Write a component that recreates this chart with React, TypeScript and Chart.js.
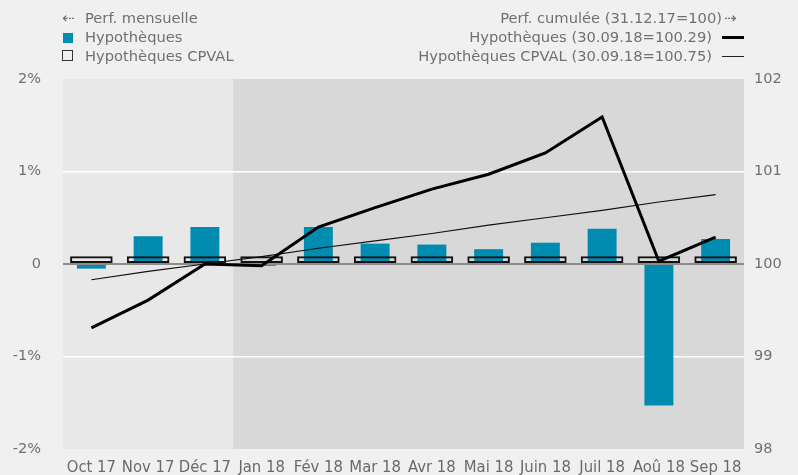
import React, { useEffect, useRef } from "react";
import { Chart, registerables } from "chart.js";
Chart.register(...registerables);

const categories = ["Oct 17", "Nov 17", "Déc 17", "Jan 18", "Fév 18", "Mar 18", "Avr 18", "Mai 18", "Juin 18", "Juil 18", "Aoû 18", "Sep 18"];
const monthlyHyp = [-0.05, 0.30, 0.40, -0.02, 0.40, 0.22, 0.21, 0.16, 0.23, 0.38, -1.53, 0.27];
const monthlyCpval = [0.083, 0.083, 0.083, 0.083, 0.083, 0.083, 0.083, 0.083, 0.083, 0.083, 0.083, 0.083];
const cumulHyp = [99.31, 99.61, 100.0, 99.98, 100.40, 100.61, 100.81, 100.97, 101.20, 101.59, 100.03, 100.29];
const cumulCpval = [99.83, 99.92, 100.0, 100.08, 100.17, 100.25, 100.33, 100.42, 100.50, 100.58, 100.67, 100.75];
const leftTickValues = [-2, -1, 0, 1, 2];
const leftTickLabels = ["-2%", "-1%", "0", "1%", "2%"];
const rightTickValues = [98, 99, 100, 101, 102];

const TEAL = "#008bb0";
const TXT = "#707070";
const FONT = '"DejaVu Sans", Verdana, sans-serif';

const bgPlugin = {
  id: "bgShade",
  beforeDraw(chart: any) {
    const { ctx, chartArea, scales } = chart;
    ctx.save();
    ctx.fillStyle = "#f0f0f0";
    ctx.fillRect(0, 0, chart.width, chart.height);
    ctx.fillStyle = "#e8e8e8";
    ctx.fillRect(chartArea.left, chartArea.top, chartArea.right - chartArea.left, chartArea.bottom - chartArea.top);
    const x = scales.x;
    const split = (x.getPixelForValue(2) + x.getPixelForValue(3)) / 2;
    ctx.fillStyle = "#d8d8d8";
    ctx.fillRect(split, chartArea.top, chartArea.right - split, chartArea.bottom - chartArea.top);
    ctx.restore();
  },
};

export default function App() {
  const ref = useRef<HTMLCanvasElement>(null);
  useEffect(() => {
    const chart = new Chart(ref.current as HTMLCanvasElement, {
      type: "bar",
      data: {
        labels: categories,
        datasets: [
          {
            type: "line",
            label: "Hypothèques (30.09.18=100.29)",
            data: cumulHyp,
            yAxisID: "y2",
            borderColor: "#000",
            borderWidth: 3,
            pointRadius: 0,
            tension: 0,
            order: 0,
          } as any,
          {
            type: "line",
            label: "Hypothèques CPVAL (30.09.18=100.75)",
            data: cumulCpval,
            yAxisID: "y2",
            borderColor: "#111",
            borderWidth: 1.2,
            pointRadius: 0,
            tension: 0,
            order: 1,
          },
          {
            type: "bar",
            label: "Hypothèques CPVAL",
            data: monthlyCpval,
            yAxisID: "y",
            backgroundColor: "rgba(0,0,0,0)",
            borderColor: "#111",
            borderWidth: 2,
            borderSkipped: false,
            grouped: false,
            categoryPercentage: 1,
            barPercentage: 0.75,
            order: 2,
          },
          {
            type: "bar",
            label: "Hypothèques",
            data: monthlyHyp,
            yAxisID: "y",
            backgroundColor: TEAL,
            borderWidth: 0,
            grouped: false,
            categoryPercentage: 1,
            barPercentage: 0.51,
            order: 3,
          },
        ],
      },
      options: {
        animation: false,
        responsive: false,
        maintainAspectRatio: false,
        layout: { padding: { top: 79, left: 0, right: 0, bottom: 0 } },
        plugins: { legend: { display: false }, tooltip: { enabled: false } },
        scales: {
          x: {
            type: "category",
            offset: true,
            grid: { display: false, drawTicks: false },
            border: { display: false },
            ticks: {
              color: "#6a6a6a",
              font: { family: '"DejaVu Sans Condensed", "DejaVu Sans", sans-serif', size: 16.5 },
              padding: 9,
              maxRotation: 0,
              autoSkip: false,
            },
            afterFit(s: any) {
              s.height = 26;
            },
          },
          y: {
            position: "left",
            min: -2,
            max: 2,
            afterBuildTicks(s: any) {
              s.ticks = leftTickValues.map((v) => ({ value: v }));
            },
            ticks: {
              color: TXT,
              font: { family: FONT, size: 14.5 },
              padding: 22,
              callback: (v: any) => leftTickLabels[leftTickValues.indexOf(Number(v))],
            },
            grid: {
              drawTicks: false,
              color: (c: any) => {
                const v = c.tick ? c.tick.value : null;
                if (v === 0) return "#8c8c8c";
                if (v === 1 || v === -1) return "#ffffff";
                return "rgba(0,0,0,0)";
              },
              lineWidth: (c: any) => (c.tick && c.tick.value === 0 ? 2 : 1.5),
            },
            border: { display: false },
            afterFit(s: any) {
              s.width = 63;
              s.paddingTop = 0;
              s.paddingBottom = 0;
            },
          },
          y2: {
            position: "right",
            min: 98,
            max: 102,
            afterBuildTicks(s: any) {
              s.ticks = rightTickValues.map((v) => ({ value: v }));
            },
            ticks: {
              color: TXT,
              font: { family: FONT, size: 14.5 },
              padding: 10,
              callback: (v: any) => String(v),
            },
            grid: { display: false, drawTicks: false },
            border: { display: false },
            afterFit(s: any) {
              s.width = 54;
              s.paddingTop = 0;
              s.paddingBottom = 0;
            },
          },
        },
      } as any,
      plugins: [bgPlugin],
    });
    return () => chart.destroy();
  }, []);

  const txt: React.CSSProperties = {
    position: "absolute",
    fontFamily: FONT,
    fontSize: 14.7,
    color: TXT,
    lineHeight: "16px",
    whiteSpace: "nowrap",
  };

  return (
    <div style={{ position: "fixed", left: 0, top: 0, width: 798, height: 475, background: "#f0f0f0", overflow: "hidden" }}>
      <canvas ref={ref} width={798} height={475} style={{ position: "absolute", left: 0, top: 0, width: 798, height: 475 }} />
      {/* left legend */}
      <div style={{ ...txt, left: 62, top: 10, fontSize: 15 }}>⇠</div>
      <div style={{ ...txt, left: 85, top: 10 }}>Perf. mensuelle</div>
      <div style={{ position: "absolute", left: 63, top: 33, width: 10, height: 10, background: TEAL }} />
      <div style={{ ...txt, left: 85, top: 29 }}>Hypothèques</div>
      <div style={{ position: "absolute", left: 62, top: 50, width: 9, height: 9, border: "1.5px solid #333" }} />
      <div style={{ ...txt, left: 85, top: 48 }}>Hypothèques CPVAL</div>
      {/* right legend */}
      <div style={{ ...txt, right: 798 - 722, top: 10 }}>Perf. cumulée (31.12.17=100)</div>
      <div style={{ ...txt, left: 724, top: 10, fontSize: 15 }}>⇢</div>
      <div style={{ ...txt, right: 798 - 712, top: 29 }}>Hypothèques (30.09.18=100.29)</div>
      <div style={{ position: "absolute", left: 722, top: 36, width: 22, height: 3, background: "#000" }} />
      <div style={{ ...txt, right: 798 - 712, top: 48 }}>Hypothèques CPVAL (30.09.18=100.75)</div>
      <div style={{ position: "absolute", left: 722, top: 55.5, width: 22, height: 1, background: "#222" }} />
    </div>
  );
}
